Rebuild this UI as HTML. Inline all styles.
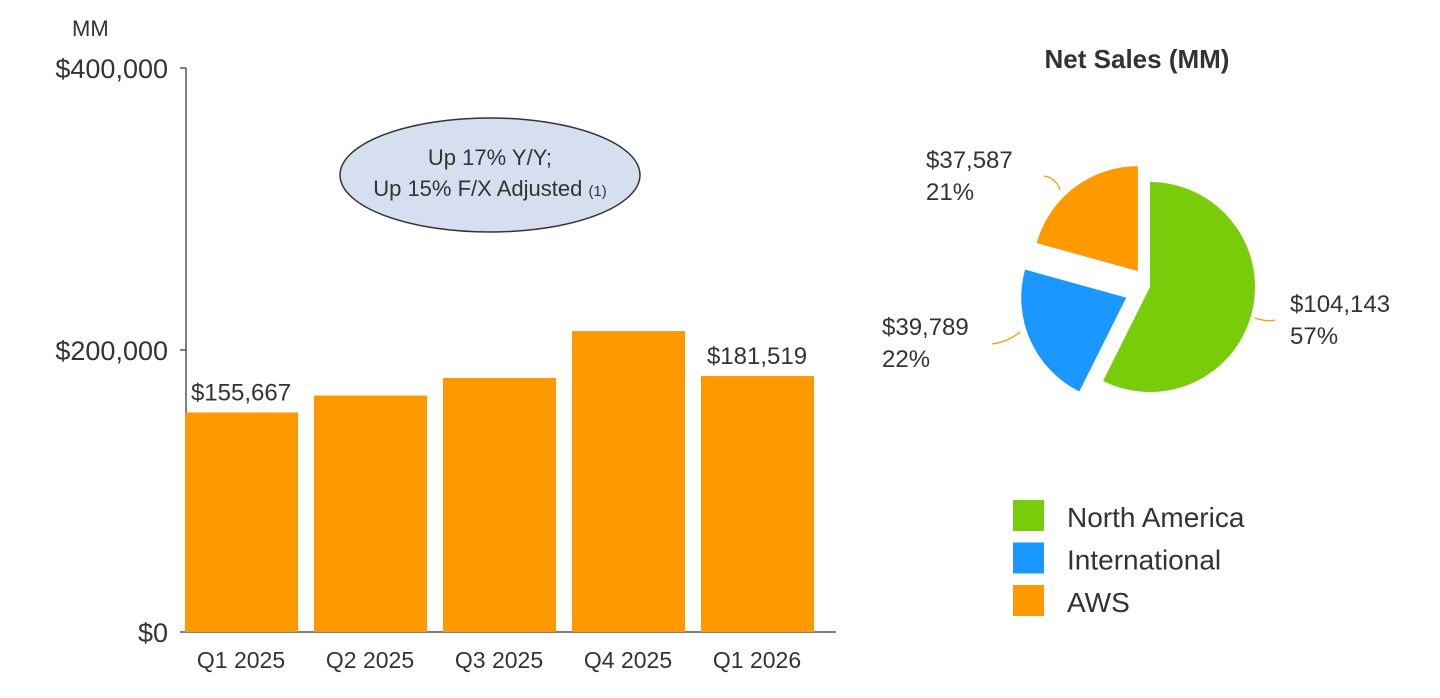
<!DOCTYPE html>
<html><head><meta charset="utf-8"><style>
body{margin:0;background:#fff;width:1440px;height:693px;overflow:hidden;font-family:"Liberation Sans",sans-serif}
</style></head><body>
<svg id="c" width="1440" height="693" viewBox="0 0 1440 693" font-family="Liberation Sans, sans-serif" fill="#333">
<text x="72" y="36" font-size="22">MM</text>
<line x1="186" y1="68" x2="186" y2="632" stroke="#555" stroke-width="1.5"/>
<line x1="186" y1="632" x2="836" y2="632" stroke="#555" stroke-width="1.5"/>
<g id="ticks"></g><g id="bars"></g>
<ellipse cx="490" cy="175" rx="150" ry="57" fill="#d5dff0" stroke="#333" stroke-width="1.5"/>
<text x="490" y="165" font-size="22" text-anchor="middle">Up 17% Y/Y;</text>
<text x="490" y="196" font-size="22" text-anchor="middle">Up 15% F/X Adjusted <tspan font-size="15">(1)</tspan></text>
<text x="1137" y="68" font-size="26" font-weight="bold" text-anchor="middle">Net Sales (MM)</text>
<g id="pie"></g>
<g id="legend"></g>
</svg>
<script>
const categories=["Q1 2025","Q2 2025","Q3 2025","Q4 2025","Q1 2026"];
const salesValues=[155667,167702,180169,213386,181519];
const valueLabels=["$155,667","","","","$181,519"];
const yTicks=[0,200000,400000];
const yTickLabels=["$0","$200,000","$400,000"];
const segNames=["North America","International","AWS"];
const segValues=[104143,39789,37587];
const segLabels=["$104,143","$39,789","$37,587"];
const segPcts=["57%","22%","21%"];
const segColors=["#78cc0a","#1a98ff","#ff9900"];
const NS="http://www.w3.org/2000/svg";
function mk(t,a,p){const e=document.createElementNS(NS,t);for(const k in a)e.setAttribute(k,a[k]);p.appendChild(e);return e;}
const y=v=>632-v/400000*564;
const x=i=>185+i*129;
const tg=document.getElementById('ticks');
yTicks.forEach((v,i)=>{
 const l=mk('line',{x1:180,x2:186,y1:y(v),y2:y(v),stroke:'#555','stroke-width':1.5},tg);
 
 
 const t=mk('text',{x:168,y:y(v)+10,'font-size':27,'text-anchor':'end'},tg);t.textContent=yTickLabels[i];
 
 
});
const bg=document.getElementById('bars');
categories.forEach((c,i)=>{
 const r=mk('rect',{x:x(i),y:y(salesValues[i]),width:113,height:632-y(salesValues[i]),fill:'#ff9900'},bg);
 
 
 const t=mk('text',{x:x(i)+56,y:668,'font-size':23,'text-anchor':'middle'},bg);t.textContent=c;
 
 
 if(valueLabels[i]){const v=mk('text',{x:x(i)+56,y:y(salesValues[i])-12,'font-size':24,'text-anchor':'middle'},bg);v.textContent=valueLabels[i];
 
 }
});
const pg=document.getElementById('pie');
const total=segValues.reduce((a,b)=>a+b,0);
const cx=1150,cy=287,R=105;
const offs=[0,26,20];
const lblPos=[[1290,312],[882,335],[926,168]];
const anchors=[[1255,318],[1020,332],[1060,190]];
let a0=0;
segValues.forEach((v,i)=>{
 const a1=a0+v/total*2*Math.PI,mid=(a0+a1)/2;
 const ox=cx+offs[i]*Math.sin(mid),oy=cy-offs[i]*Math.cos(mid);
 const p=(a)=>[ox+R*Math.sin(a),oy-R*Math.cos(a)];
 const s=p(a0),e=p(a1);
 const path=mk('path',{d:`M${ox},${oy}L${s[0]},${s[1]}A${R},${R} 0 ${a1-a0>Math.PI?1:0} 1 ${e[0]},${e[1]}Z`,fill:segColors[i]},pg);
 
 
 const [lx,ly]=lblPos[i],[ax,ay]=anchors[i];
 const ln=mk('path',{d:i==0?`M${ax},${ay}Q${ax+12},${ay+4} ${ax+20},${ay+2}`:i==1?`M${ax},${ay}Q${ax-12},${ay+10} ${ax-28},${ay+12}`:`M${ax},${ay}Q${ax-4},${ay-12} ${ax-16},${ay-14}`,fill:'none',stroke:'#ff9900','stroke-width':1.3},pg);
 
 
 const t1=mk('text',{x:lx,y:ly,'font-size':24},pg);t1.textContent=segLabels[i];
 
 
 const t2=mk('text',{x:lx,y:ly+32,'font-size':24},pg);t2.textContent=segPcts[i];
 
 
 a0=a1;
});
const lg=document.getElementById('legend');
segNames.forEach((n,i)=>{
 const r=mk('rect',{x:1013,y:500+i*42.5,width:31,height:31,fill:segColors[i]},lg);
 
 
 const t=mk('text',{x:1067,y:527+i*42.5,'font-size':28},lg);t.textContent=n;
 
 
});
</script>
</body></html>
